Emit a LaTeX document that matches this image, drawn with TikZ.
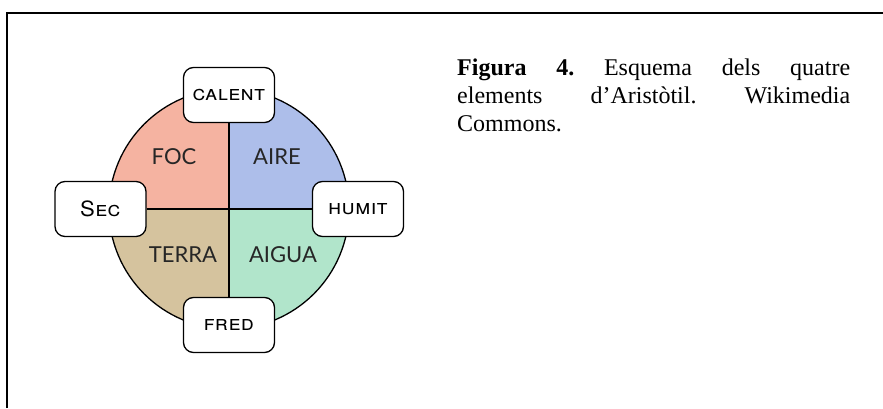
\documentclass[tikz,border=0pt]{standalone}
\usepackage{fontspec}
\setmainfont{Liberation Serif}
\newfontfamily\elemfont{Lato}
\newfontfamily\qualfont[FakeStretch=1.05,LetterSpace=2]{TeX Gyre Heros}
\definecolor{focred}{HTML}{F5B3A1}
\definecolor{aireblue}{HTML}{ADBEEA}
\definecolor{terrabrown}{HTML}{D5C39E}
\definecolor{aiguagreen}{HTML}{B1E5CB}
\tikzset{
  quality/.style={draw, line width=1.3pt, fill=white, rounded corners=10pt,
    minimum width=91pt, minimum height=55pt,
    font=\qualfont\fontsize{21}{21}\selectfont},
  element/.style={font=\elemfont\fontsize{22}{22}\selectfont, text=black!85},
  divider/.style={line width=2pt}
}
\newcommand{\rad}{120pt}

\begin{document}
\begin{tikzpicture}[x=1pt, y=1pt]
    \useasboundingbox (0,0) rectangle (883,408);
    \draw[line width=2pt] (7,0) -- (7,395) -- (883,395);

    % the four quarters
    \coordinate (centre) at (229,199);
    \fill[focred] (centre) -- ++(180:\rad) arc (180:90:\rad) -- cycle;
    \fill[aireblue] (centre) -- ++(90:\rad) arc (90:0:\rad) -- cycle;
    \fill[aiguagreen] (centre) -- ++(0:\rad) arc (0:-90:\rad) -- cycle;
    \fill[terrabrown] (centre) -- ++(-90:\rad) arc (-90:-180:\rad) -- cycle;
    \draw[line width=1.3pt] (centre) circle (\rad);

    \node[element] (foc) at (174,251) {FOC};
    \node[element] (aire) at (277,251) {AIRE};
    \node[element] (terra) at (183,153) {TERRA};
    \node[element] (aigua) at (283,153) {AIGUA};

    % qualities
    \node[quality] (calent) at (229,313) {\textsc{calent}};
    \node[quality] (fred) at (229,83) {\textsc{fred}};
    \node[quality] (sec) at (100.5,199) {\textsc{Sec}};
    \node[quality] (humit) at (358,199) {\textsc{humit}};
    \draw[divider] (calent) -- (fred);
    \draw[divider] (sec) -- (humit);

    \node[anchor=north west, inner sep=0pt, text width=393pt, align=justify,
      font=\fontsize{24}{28}\selectfont\frenchspacing] (caption) at (457,349)
      {\textbf{Figura 4.} Esquema dels quatre\linebreak
       elements d’Aristòtil. Wikimedia\linebreak Commons.};
\end{tikzpicture}
\end{document}
